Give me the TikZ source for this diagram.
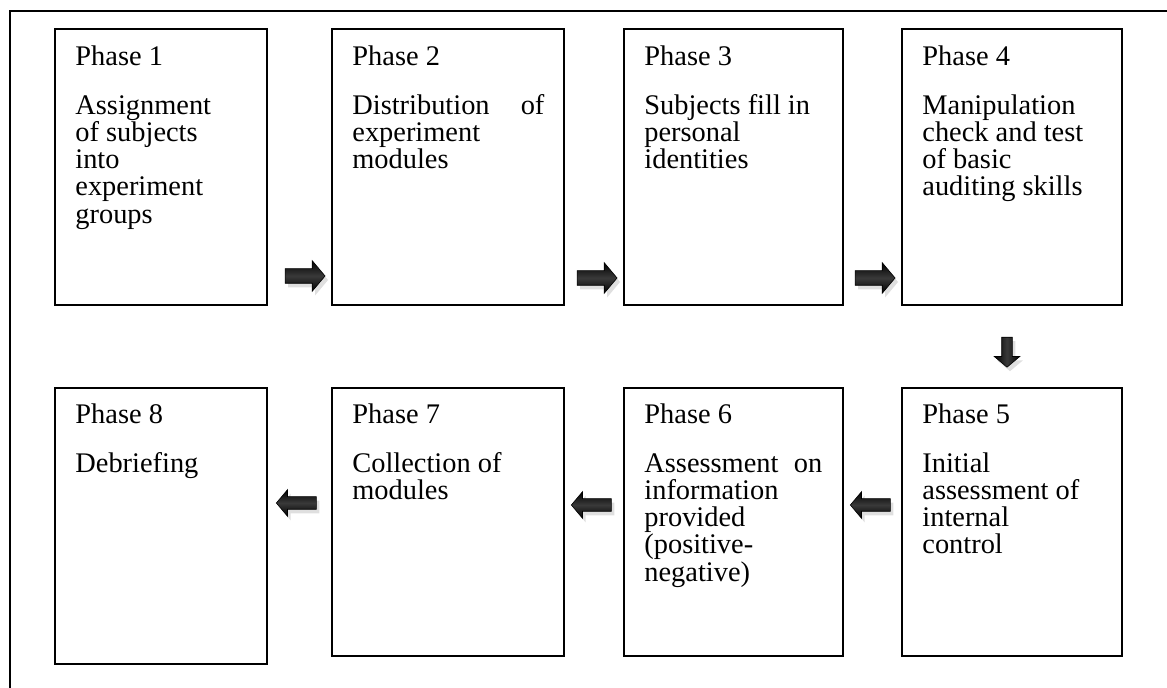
\documentclass[tikz,border=0pt]{standalone}
\usepackage{fontspec}
\setmainfont{Liberation Serif}
\usetikzlibrary{
    fit,
    shapes.arrows,
    shadows,
    calc
}

\tikzset{
    pbox/.style={draw, line width=1pt, inner sep=0pt},
    ptext/.style={anchor=north west, inner sep=0pt, align=left,
        font=\fontsize{14.2}{13.6}\selectfont},
    harrow/.style={single arrow, draw=black, line width=0.3pt,
        inner xsep=0pt, inner ysep=3.5pt,
        minimum height=20pt, single arrow head extend=4pt,
        single arrow tip angle=100,
        top color=black, bottom color=black, middle color=gray!45!black,
        drop shadow={opacity=0.25, shadow xshift=1.5pt, shadow yshift=-2pt}},
    larrow/.style={harrow, shape border rotate=180, inner ysep=3pt,
        single arrow head extend=3.5pt},
    varrow/.style={single arrow, draw=black, line width=0.3pt,
        inner xsep=2.5pt, inner ysep=0pt,
        minimum height=15pt, single arrow head extend=3.75pt,
        single arrow tip angle=100, shape border rotate=270,
        left color=black, right color=black, middle color=gray!45!black,
        drop shadow={opacity=0.25, shadow xshift=1.5pt, shadow yshift=-2pt}}
}
\newcommand{\jline}[2]{\makebox[#1][s]{#2}}

\begin{document}
\begin{tikzpicture}[x=0.5pt, y=-0.5pt]
\useasboundingbox (0,0) rectangle (1167,688);
% frame
\draw[line width=1pt] (1167,11) -- (10,11) -- (10,688);

% upper row
\node[pbox, fit={(55,29) (267,305)}] (p1) {};
\node[pbox, fit={(332,29) (564,305)}] (p2) {};
\node[pbox, fit={(624,29) (843,305)}] (p3) {};
\node[pbox, fit={(902,29) (1122,305)}] (p4) {};
% lower row
\node[pbox, fit={(902,388) (1122,656)}] (p5) {};
\node[pbox, fit={(624,388) (843,656)}] (p6) {};
\node[pbox, fit={(332,388) (564,656)}] (p7) {};
\node[pbox, fit={(55,388) (267,664)}] (p8) {};

\node[ptext] (t1) at ([shift={(21,17)}]p1.north west) {Phase 1\\[11pt]Assignment\\of subjects\\into\\experiment\\groups};
\node[ptext] (t2) at ([shift={(21,17)}]p2.north west) {Phase 2\\[11pt]\jline{96pt}{Distribution of}\\experiment\\modules};
\node[ptext] (t3) at ([shift={(21,17)}]p3.north west) {Phase 3\\[11pt]Subjects fill in\\personal\\identities};
\node[ptext] (t4) at ([shift={(21,17)}]p4.north west) {Phase 4\\[11pt]Manipulation\\check and test\\of basic\\auditing skills};
\node[ptext] (t5) at ([shift={(21,16)}]p5.north west) {Phase 5\\[11pt]Initial\\assessment of\\internal\\control};
\node[ptext] (t6) at ([shift={(21,16)}]p6.north west) {Phase 6\\[11pt]\jline{89pt}{Assessment on}\\information\\provided\\(positive-\\negative)};
\node[ptext] (t7) at ([shift={(21,16)}]p7.north west) {Phase 7\\[11pt]Collection of\\modules};
\node[ptext] (t8) at ([shift={(21,16)}]p8.north west) {Phase 8\\[11pt]Debriefing};

% arrows
\node[harrow] (a12) at (302,276) {};
\node[harrow] (a23) at (594,278) {};
\node[harrow] (a34) at (872,278) {};
\node[varrow] (a45) at (1007,350) {};
\node[larrow] (a56) at (873,505) {};
\node[larrow] (a67) at (594,505) {};
\node[larrow] (a78) at (299,503) {};
\end{tikzpicture}
\end{document}
